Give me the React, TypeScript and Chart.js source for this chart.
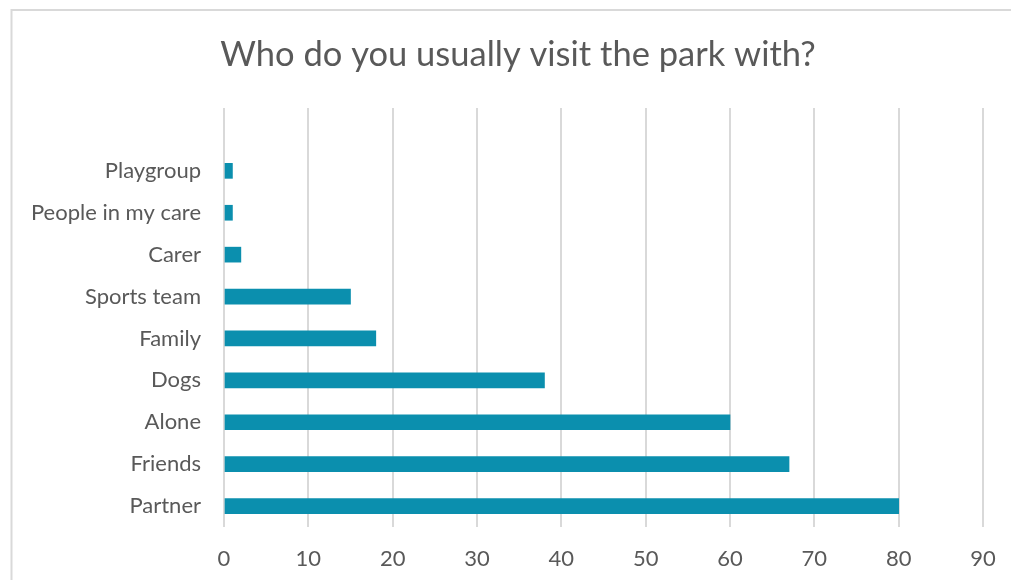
import React, { useEffect, useRef } from "react";
import { Chart, registerables } from "chart.js";

Chart.register(...registerables);

const chartTitle = "Who do you usually visit the park with?";
const categories = ["", "Playgroup", "People in my care", "Carer", "Sports team", "Family", "Dogs", "Alone", "Friends", "Partner"];
const counts = [null, 1, 1, 2, 15, 18, 38, 60, 67, 80];
const xMin = 0;
const xMax = 90;
const xStep = 10;

const FONT = "Lato, 'Open Sans', sans-serif";
const TEXT = "#595959";

const framePlugin = {
  id: "frame",
  beforeDraw(chart: any) {
    const ctx = chart.ctx;
    ctx.save();
    ctx.fillStyle = "#ffffff";
    ctx.fillRect(0, 0, chart.width, chart.height);
    ctx.strokeStyle = "#d9d9d9";
    ctx.lineWidth = 2;
    ctx.beginPath();
    ctx.moveTo(11.5, chart.height + 5);
    ctx.lineTo(11.5, 10);
    ctx.lineTo(chart.width + 5, 10);
    ctx.stroke();
    ctx.fillStyle = TEXT;
    ctx.font = `34.5px ${FONT}`;
    ctx.textAlign = "center";
    ctx.textBaseline = "middle";
    ctx.fillText(chartTitle, 518, 55);
    ctx.restore();
  },
};

export default function App() {
  const ref = useRef<HTMLCanvasElement>(null);
  useEffect(() => {
    const chart = new Chart(ref.current!, {
      type: "bar",
      data: {
        labels: categories,
        datasets: [
          {
            data: counts as any,
            backgroundColor: "#0b8fae",
            barThickness: 15,
          },
        ],
      },
      options: {
        indexAxis: "y",
        animation: false,
        responsive: false,
        layout: { padding: { top: 108, right: 28, left: 0, bottom: 0 } },
        plugins: { legend: { display: false }, title: { display: false }, tooltip: { enabled: false } },
        scales: {
          x: {
            min: xMin,
            max: xMax,
            ticks: { stepSize: xStep, color: TEXT, font: { family: FONT, size: 22 }, padding: 19, maxRotation: 0, minRotation: 0 },
            grid: { color: "#d9d9d9", lineWidth: 2, drawTicks: false },
            border: { display: false },
            afterFit(s: any) { s.height = 53; s.paddingRight = 12; s.paddingLeft = 0; },
          },
          y: {
            ticks: { color: TEXT, font: { family: FONT, size: 22 }, padding: 23 },
            grid: { display: false, drawTicks: false },
            border: { display: false },
            afterFit(s: any) { s.width = 224; },
          },
        },
      },
      plugins: [framePlugin],
    });
    return () => chart.destroy();
  }, []);
  return (
    <div style={{ position: "absolute", left: 0, top: 0, width: 1011, height: 580 }}>
      <canvas ref={ref} width={1011} height={580} style={{ display: "block" }} />
    </div>
  );
}
